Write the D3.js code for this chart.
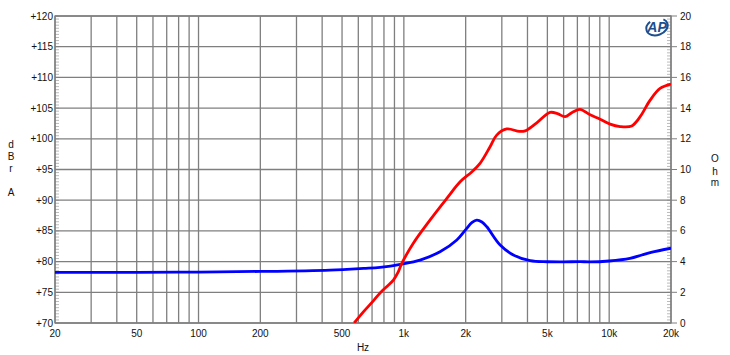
<!DOCTYPE html>
<html>
<head>
<meta charset="utf-8">
<script src="https://cdn.jsdelivr.net/npm/d3@7"></script>
<style>
  body { margin: 0; background: #fff; }
  text { font-family: "Liberation Sans", Arial, sans-serif; fill: #111; }
</style>
</head>
<body>
<div id="chart"></div>
<script>
// Chart size and plot margins
const width = 730;
const height = 355;
const margin = { top: 16, right: 59, bottom: 32, left: 55 };

// Data
const splFreq = [573, 635, 710, 766, 830, 889, 935, 977, 1112, 1343, 1619, 1880, 2140, 2350, 2630, 2833, 3170, 3650, 3900, 4438, 5154, 5600, 6095, 6600, 7212, 8072, 9033, 10100, 11300, 12880, 14150, 15830, 17700, 20000];
const splDb   = [70.0, 71.8, 73.6, 74.9, 76.0, 77.0, 78.2, 79.7, 83.0, 86.8, 90.3, 93.0, 94.6, 96.0, 98.7, 100.6, 101.6, 101.2, 101.3, 102.6, 104.3, 104.1, 103.6, 104.3, 104.8, 103.9, 103.2, 102.4, 102.0, 102.1, 103.6, 106.3, 108.2, 108.9];
const impFreq = [20, 50, 100, 200, 437, 636, 766, 977, 1199, 1500, 1811, 2000, 2150, 2265, 2400, 2535, 2944, 3415, 4122, 5000, 6000, 7212, 8000, 10000, 12620, 14420, 16000, 20000];
const impOhm  = [3.30, 3.30, 3.32, 3.36, 3.45, 3.56, 3.63, 3.84, 4.10, 4.64, 5.41, 6.08, 6.55, 6.70, 6.58, 6.27, 5.08, 4.43, 4.06, 3.99, 3.98, 4.00, 3.98, 4.04, 4.21, 4.43, 4.60, 4.87];

const xTicks = [20, 50, 100, 200, 500, 1000, 2000, 5000, 10000, 20000];
const xTickLabels = ["20", "50", "100", "200", "500", "1k", "2k", "5k", "10k", "20k"];
const xGrid = [20, 30, 40, 50, 60, 70, 80, 90, 100, 200, 300, 400, 500, 600, 700, 800, 900,
               1000, 2000, 3000, 4000, 5000, 6000, 7000, 8000, 9000, 10000, 20000];
const dbTicks = [70, 75, 80, 85, 90, 95, 100, 105, 110, 115, 120];
const ohmTicks = [0, 2, 4, 6, 8, 10, 12, 14, 16, 18, 20];

const svg = d3.select("#chart")
    .append("svg")
    .attr("width", width)
    .attr("height", height);

const x = d3.scaleLog().domain([20, 20000]).range([margin.left, width - margin.right]);
const yDb = d3.scaleLinear().domain([70, 120]).range([height - margin.bottom, margin.top]);
const yOhm = d3.scaleLinear().domain([0, 20]).range([height - margin.bottom, margin.top]);

const x0 = margin.left, x1 = width - margin.right;
const y0 = margin.top, y1 = height - margin.bottom;
const gridColor = "#7f7f7f";

// minor ticks (inside frame)
svg.append("g")
    .selectAll("line")
    .data(d3.range(70, 120.01, 0.5))
    .join("line")
    .attr("x1", x0).attr("x2", x0 + 4)
    .attr("y1", d => yDb(d)).attr("y2", d => yDb(d))
    .attr("stroke", "#aaa").attr("stroke-width", 0.8);

svg.append("g")
    .selectAll("line")
    .data(d3.range(0, 20.01, 0.2))
    .join("line")
    .attr("x1", x1 - 4).attr("x2", x1)
    .attr("y1", d => yOhm(d)).attr("y2", d => yOhm(d))
    .attr("stroke", "#aaa").attr("stroke-width", 0.8);

// grid
svg.append("g")
    .selectAll("line")
    .data(xGrid)
    .join("line")
    .attr("x1", d => x(d)).attr("x2", d => x(d))
    .attr("y1", y0).attr("y2", y1)
    .attr("stroke", gridColor).attr("stroke-width", 1.3);

svg.append("g")
    .selectAll("line")
    .data(dbTicks)
    .join("line")
    .attr("x1", x0).attr("x2", x1)
    .attr("y1", d => yDb(d)).attr("y2", d => yDb(d))
    .attr("stroke", gridColor).attr("stroke-width", 1.3);

// right major ticks outside
svg.append("g")
    .selectAll("line")
    .data(ohmTicks)
    .join("line")
    .attr("x1", x1).attr("x2", x1 + 6)
    .attr("y1", d => yOhm(d)).attr("y2", d => yOhm(d))
    .attr("stroke", gridColor).attr("stroke-width", 1);

// frame
svg.append("rect")
    .attr("x", x0).attr("y", y0)
    .attr("width", x1 - x0).attr("height", y1 - y0)
    .attr("fill", "none")
    .attr("stroke", gridColor).attr("stroke-width", 1.3);

// tick labels
svg.append("g")
    .selectAll("text")
    .data(dbTicks)
    .join("text")
    .attr("x", x0 - 2)
    .attr("y", d => yDb(d) + 3.5)
    .attr("text-anchor", "end")
    .style("font-size", "10px")
    .text(d => "+" + d);

svg.append("g")
    .selectAll("text")
    .data(ohmTicks)
    .join("text")
    .attr("x", x1 + 9)
    .attr("y", d => yOhm(d) + 3.5)
    .style("font-size", "10px")
    .text(d => d);

svg.append("g")
    .selectAll("text")
    .data(xTicks)
    .join("text")
    .attr("x", d => x(d))
    .attr("y", y1 + 14)
    .attr("text-anchor", "middle")
    .style("font-size", "10px")
    .text((d, i) => xTickLabels[i]);

// axis titles
svg.append("text")
    .attr("x", 363).attr("y", 351)
    .attr("text-anchor", "middle")
    .style("font-size", "10px")
    .text("Hz");

const leftTitle = [["d", 148], ["B", 160], ["r", 172], ["A", 196]];
svg.append("g")
    .selectAll("text")
    .data(leftTitle)
    .join("text")
    .attr("x", 11).attr("y", d => d[1])
    .attr("text-anchor", "middle")
    .style("font-size", "10px")
    .text(d => d[0]);

const rightTitle = [["O", 162], ["h", 175], ["m", 186]];
svg.append("g")
    .selectAll("text")
    .data(rightTitle)
    .join("text")
    .attr("x", 715).attr("y", d => d[1])
    .attr("text-anchor", "middle")
    .style("font-size", "10px")
    .text(d => d[0]);

// AP logo
const logo = svg.append("g").attr("transform", "translate(657,27)");
logo.append("ellipse")
    .attr("rx", 11).attr("ry", 8)
    .attr("transform", "rotate(-20)")
    .attr("fill", "none")
    .attr("stroke", "#1d4f8f")
    .attr("stroke-width", 2)
    .attr("stroke-dasharray", "40 14");
logo.append("text")
    .attr("x", 0).attr("y", 5)
    .attr("text-anchor", "middle")
    .style("font-size", "14px")
    .style("font-weight", "bold")
    .style("font-style", "italic")
    .style("fill", "#1d4f8f")
    .text("AP");

// curves
svg.append("clipPath").attr("id", "plot-clip")
    .append("rect")
    .attr("x", x0).attr("y", y0)
    .attr("width", x1 - x0).attr("height", y1 - y0);

const impLine = d3.line()
    .x((d, i) => x(impFreq[i]))
    .y(d => yOhm(d))
    .curve(d3.curveCatmullRom);

const splLine = d3.line()
    .x((d, i) => x(splFreq[i]))
    .y(d => yDb(d))
    .curve(d3.curveCatmullRom);

svg.append("path")
    .attr("clip-path", "url(#plot-clip)")
    .attr("d", impLine(impOhm))
    .attr("fill", "none")
    .attr("stroke", "#0000ff")
    .attr("stroke-width", 2.8);

svg.append("path")
    .attr("clip-path", "url(#plot-clip)")
    .attr("d", splLine(splDb))
    .attr("fill", "none")
    .attr("stroke", "#ff0000")
    .attr("stroke-width", 2.8);
</script>
</body>
</html>
